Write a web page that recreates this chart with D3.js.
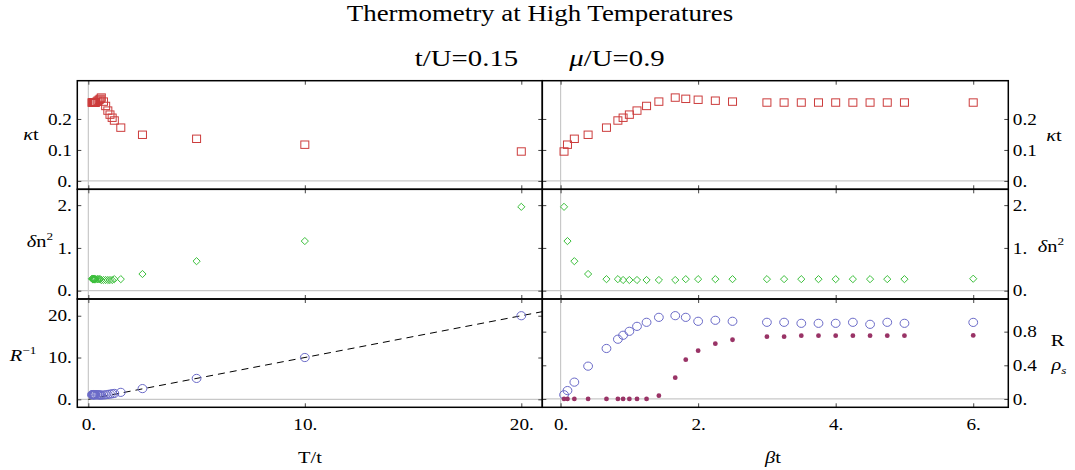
<!DOCTYPE html>
<html>
<head>
<meta charset="utf-8">
<script src="https://cdn.jsdelivr.net/npm/d3@7"></script>
<style>
  body { margin: 0; background: #fff; }
  text { font-family: "Liberation Serif", Tinos, "Times New Roman", serif; fill: #000; }
</style>
</head>
<body>
<svg id="chart" width="1075" height="470"></svg>
<script>
// inverse temperature beta*t for each simulation point
const betaT = [0.05, 0.1, 0.2, 0.4, 0.667, 0.833, 0.909, 1.0, 1.111, 1.25, 1.429, 1.667, 1.82,
  2.0, 2.25, 2.5, 3.0, 3.25, 3.5, 3.75, 4.0, 4.25, 4.5, 4.75, 5.0, 6.0];
const kappaT = [0.095, 0.117, 0.136, 0.149, 0.172, 0.195, 0.204, 0.214, 0.227, 0.242, 0.256, 0.269, 0.265,
  0.262, 0.259, 0.256, 0.253, 0.253, 0.253, 0.253, 0.253, 0.253, 0.253, 0.253, 0.253, 0.253];
const deltaN2 = [1.96, 1.16, 0.69, 0.39, 0.27, 0.27, 0.25, 0.25, 0.25, 0.25, 0.25, 0.25, 0.27,
  0.27, 0.27, 0.27, 0.27, 0.27, 0.27, 0.27, 0.27, 0.27, 0.27, 0.27, 0.27, 0.28];
const ratioR = [0.05, 0.1, 0.2, 0.39, 0.6, 0.71, 0.757, 0.804, 0.863, 0.911, 0.97, 0.99, 0.97,
  0.923, 0.935, 0.923, 0.911, 0.911, 0.899, 0.899, 0.899, 0.911, 0.887, 0.911, 0.899, 0.91];
const rhoS = [0, 0, 0, 0, 0, 0, 0, 0, 0, 0, 0.039, 0.253, 0.467,
  0.574, 0.657, 0.704, 0.74, 0.74, 0.752, 0.752, 0.752, 0.752, 0.752, 0.752, 0.752, 0.755];
// dashed guide R^-1 = T/t
const guideT = [0, 22];

const tempTicks = [0, 10, 20];
const betaTicks = [0, 2, 4, 6];
const kappaTicks = [0, 0.1, 0.2];
const dn2Ticks = [0, 1, 2];
const rinvTicks = [0, 10, 20];
const rTicks = [0, 0.4, 0.8];

const points = betaT.map((b, i) => ({
  beta: b, temp: 1 / b,
  kappa: kappaT[i], dn2: deltaN2[i], r: ratioR[i], rinv: 1 / ratioR[i], rho: rhoS[i]
}));

const svg = d3.select('#chart');
const SX = 1.2; // text in the reference is stretched horizontally

const colX = [77.3, 542.3, 1008.3];
const rowY = [80.7, 189.3, 299, 407.3];

const fmt = (v) => Number.isInteger(v) ? v + '.' : String(v);

const xLeft = d3.scaleLinear().domain([-0.51, 20.97]).range([0, colX[1] - colX[0]]);
const xRight = d3.scaleLinear().domain([-0.266, 6.51]).range([0, colX[2] - colX[1]]);

const rowDefs = [
  { domL: [-0.027, 0.3235], domR: [-0.027, 0.3235], ticksL: kappaTicks, ticksR: kappaTicks },
  { domL: [-0.194, 2.37], domR: [-0.194, 2.37], ticksL: dn2Ticks, ticksR: dn2Ticks },
  { domL: [-1.91, 24.0], domR: [-0.099, 1.188], ticksL: rinvTicks, ticksR: rTicks }
];

const red = '#cc3c3c', green = '#3cbf3c', blue = '#6a6ac8', maroon = '#993366';

function squares(g, x, y, key, xkey) {
  g.selectAll(null).data(points).enter().append('rect')
    .attr('x', (d) => x(d[xkey]) - 4).attr('y', (d) => y(d[key]) - 3.7)
    .attr('width', 8).attr('height', 7.4)
    .attr('fill', 'none').attr('stroke', red).attr('stroke-width', 1);
}
function diamonds(g, x, y, key, xkey) {
  g.selectAll(null).data(points).enter().append('path')
    .attr('d', 'M0,-3.6L3.6,0L0,3.6L-3.6,0Z')
    .attr('transform', (d) => `translate(${x(d[xkey])},${y(d[key])})`)
    .attr('fill', 'none').attr('stroke', green).attr('stroke-width', 1);
}
function circles(g, x, y, key, xkey) {
  g.selectAll(null).data(points).enter().append('ellipse')
    .attr('cx', (d) => x(d[xkey])).attr('cy', (d) => y(d[key]))
    .attr('rx', 4.4).attr('ry', 4.1)
    .attr('fill', 'none').attr('stroke', blue).attr('stroke-width', 1);
}
function dots(g, x, y, key, xkey) {
  g.selectAll(null).data(points).enter().append('circle')
    .attr('cx', (d) => x(d[xkey])).attr('cy', (d) => y(d[key]))
    .attr('r', 2.4).attr('fill', maroon);
}

function styleAxis(g) {
  g.select('.domain').remove();
  g.attr('font-family', null);
  g.selectAll('line').attr('stroke', '#444').attr('stroke-width', 1);
  g.selectAll('text')
    .style('font-size', '16px')
    .attr('fill', '#000')
    .attr('transform', `scale(${SX},1)`);
}

rowDefs.forEach((row, ri) => {
  [0, 1].forEach((ci) => {
    const w = colX[ci + 1] - colX[ci];
    const h = rowY[ri + 1] - rowY[ri];
    const x = ci === 0 ? xLeft : xRight;
    const xkey = ci === 0 ? 'temp' : 'beta';
    const y = d3.scaleLinear().domain(ci === 0 ? row.domL : row.domR).range([h, 0]);
    const yt = ci === 0 ? row.ticksL : row.ticksR;
    const xt = ci === 0 ? tempTicks : betaTicks;

    const g = svg.append('g').attr('transform', `translate(${colX[ci]},${rowY[ri]})`);
    const clipId = `clip-${ri}-${ci}`;
    g.append('clipPath').attr('id', clipId).append('rect').attr('width', w).attr('height', h);
    const plot = g.append('g').attr('clip-path', `url(#${clipId})`);

    // zero lines
    plot.append('line').attr('x1', 0).attr('x2', w).attr('y1', y(0)).attr('y2', y(0))
      .attr('stroke', '#c8c8c8').attr('stroke-width', 1.2);
    plot.append('line').attr('x1', x(0)).attr('x2', x(0)).attr('y1', 0).attr('y2', h)
      .attr('stroke', '#c8c8c8').attr('stroke-width', 1.2);

    if (ri === 0) squares(plot, x, y, 'kappa', xkey);
    if (ri === 1) diamonds(plot, x, y, 'dn2', xkey);
    if (ri === 2 && ci === 0) {
      plot.append('path')
        .datum(guideT)
        .attr('d', d3.line().x((d) => x(d)).y((d) => y(d)))
        .attr('fill', 'none').attr('stroke', '#000').attr('stroke-width', 1)
        .attr('stroke-dasharray', '7,5');
      circles(plot, x, y, 'rinv', xkey);
    }
    if (ri === 2 && ci === 1) {
      circles(plot, x, y, 'r', xkey);
      dots(plot, x, y, 'rho', xkey);
    }

    // ticks on all four sides, pointing inwards
    const showL = ci === 0, showR = ci === 1, showB = ri === 2;
    g.append('g').call(d3.axisLeft(y).tickValues(yt).tickSize(-4).tickPadding(4.5)
      .tickFormat(showL ? fmt : () => '')).call(styleAxis);
    g.append('g').attr('transform', `translate(${w},0)`)
      .call(d3.axisRight(y).tickValues(yt).tickSize(-4).tickPadding(3.8)
      .tickFormat(showR ? fmt : () => '')).call(styleAxis);
    g.append('g').call(d3.axisTop(x).tickValues(xt).tickSize(-4).tickFormat(() => '')).call(styleAxis);
    g.append('g').attr('transform', `translate(0,${h})`)
      .call(d3.axisBottom(x).tickValues(xt).tickSize(-4).tickPadding(11.3)
      .tickFormat(showB ? fmt : () => '')).call(styleAxis);

    g.append('rect').attr('width', w).attr('height', h)
      .attr('fill', 'none').attr('stroke', '#000').attr('stroke-width', 1.5);
  });
});

// titles and axis labels
function label(x, y, size, anchor, build, sx) {
  const t = svg.append('text')
    .attr('transform', `translate(${x},${y}) scale(${sx || SX},1)`)
    .attr('text-anchor', anchor)
    .style('font-size', size + 'px');
  build(t);
  return t;
}
const it = (t, s) => t.append('tspan').style('font-style', 'italic').text(s);
const rm = (t, s) => t.append('tspan').text(s);
const sup = (t, s) => t.append('tspan').attr('dy', -7).style('font-size', '11px').text(s);
const sub = (t, s) => t.append('tspan').attr('dy', 4).style('font-size', '11px').style('font-style', 'italic').text(s);

label(540, 21, 24, 'middle', (t) => rm(t, 'Thermometry at High Temperatures'), 1.12);
label(466.5, 66, 24, 'middle', (t) => rm(t, 't/U=0.15'), 1.2);
label(617, 66, 24, 'middle', (t) => { it(t, 'μ'); rm(t, '/U=0.9'); }, 1.2);

label(31, 140, 17, 'middle', (t) => { it(t, 'κ'); rm(t, 't'); });
label(40, 247, 17, 'middle', (t) => { it(t, 'δ'); rm(t, 'n'); sup(t, '2'); });
label(23, 361, 17, 'middle', (t) => { it(t, 'R'); sup(t, '−1'); });

label(1054, 141, 17, 'middle', (t) => { it(t, 'κ'); rm(t, 't'); });
label(1051, 252, 17, 'middle', (t) => { it(t, 'δ'); rm(t, 'n'); sup(t, '2'); });
label(1057.5, 346, 17, 'middle', (t) => rm(t, 'R'));
label(1059, 370, 17, 'middle', (t) => { it(t, 'ρ'); sub(t, 's'); });

label(310, 463, 17, 'middle', (t) => rm(t, 'T/t'));
label(773, 463, 17, 'middle', (t) => { it(t, 'β'); rm(t, 't'); });
</script>
</body>
</html>
